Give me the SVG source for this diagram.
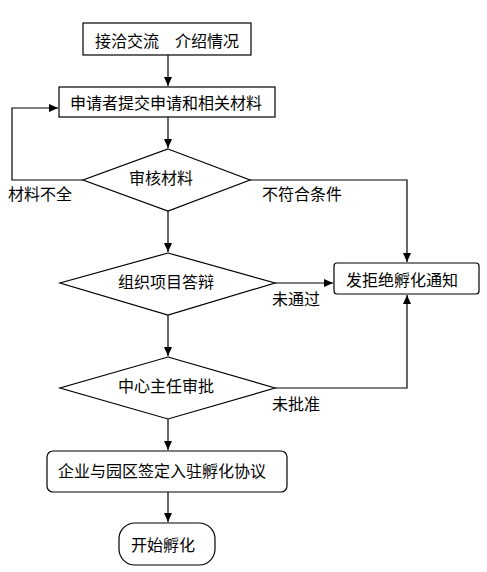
<svg xmlns="http://www.w3.org/2000/svg" width="487" height="572" viewBox="0 0 487 572">
<style>
.s{fill:#fff;stroke:#000;stroke-width:1.2}
.c{fill:none;stroke:#000;stroke-width:1.2}
text{font-family:"Noto Sans CJK SC","Noto Sans",sans-serif;font-size:16px;fill:#000}
.m{text-anchor:middle;dominant-baseline:central}
</style>
<defs>
<marker id="a" markerWidth="10" markerHeight="10" refX="9" refY="5" orient="auto" markerUnits="userSpaceOnUse">
<path d="M0,1 L9,5 L0,9 Z" fill="#000"/>
</marker>
</defs>
<rect width="487" height="572" fill="#fff"/>
<g id="connectors">
<path class="c" d="M168,55 V86" marker-end="url(#a)"/>
<path class="c" d="M168,117 V148" marker-end="url(#a)"/>
<path class="c" d="M83,180 H12 V108 H58" marker-end="url(#a)"/>
<path class="c" d="M250,180 H407 V262" marker-end="url(#a)"/>
<path class="c" d="M168,211 V252" marker-end="url(#a)"/>
<path class="c" d="M275,283 H333" marker-end="url(#a)"/>
<path class="c" d="M168,315 V356" marker-end="url(#a)"/>
<path class="c" d="M275,388 H407 V295" marker-end="url(#a)"/>
<path class="c" d="M168,419 V450" marker-end="url(#a)"/>
<path class="c" d="M168,492 V522" marker-end="url(#a)"/>
<text x="8" y="200">材料不全</text>
<text x="262" y="200">不符合条件</text>
<text x="272" y="305">未通过</text>
<text x="272" y="410">未批准</text>
</g>
<g id="n1"><rect class="s" x="83" y="23" width="168" height="32"/><text class="m" x="167" y="40">接洽交流　介绍情况</text></g>
<g id="n2"><rect class="s" x="59" y="87" width="216" height="30"/><text class="m" x="166" y="102">申请者提交申请和相关材料</text></g>
<g id="n3"><path class="s" d="M168,149 L250,180 L168,211 L83,180 Z"/><text class="m" x="161" y="177">审核材料</text></g>
<g id="n4"><path class="s" d="M168,253 L275,283 L168,315 L60,283 Z"/><text class="m" x="166" y="281">组织项目答辩</text></g>
<g id="n5"><rect class="s" x="334" y="263" width="145" height="31" rx="3"/><text class="m" x="402" y="279">发拒绝孵化通知</text></g>
<g id="n6"><path class="s" d="M168,357 L275,388 L168,419 L60,388 Z"/><text class="m" x="166" y="385">中心主任审批</text></g>
<g id="n7"><rect class="s" x="47" y="451" width="240" height="41" rx="6"/><text class="m" x="162" y="470">企业与园区签定入驻孵化协议</text></g>
<g id="n8"><rect class="s" x="119" y="523" width="96" height="42" rx="16"/><text class="m" x="163" y="544">开始孵化</text></g>
</svg>
